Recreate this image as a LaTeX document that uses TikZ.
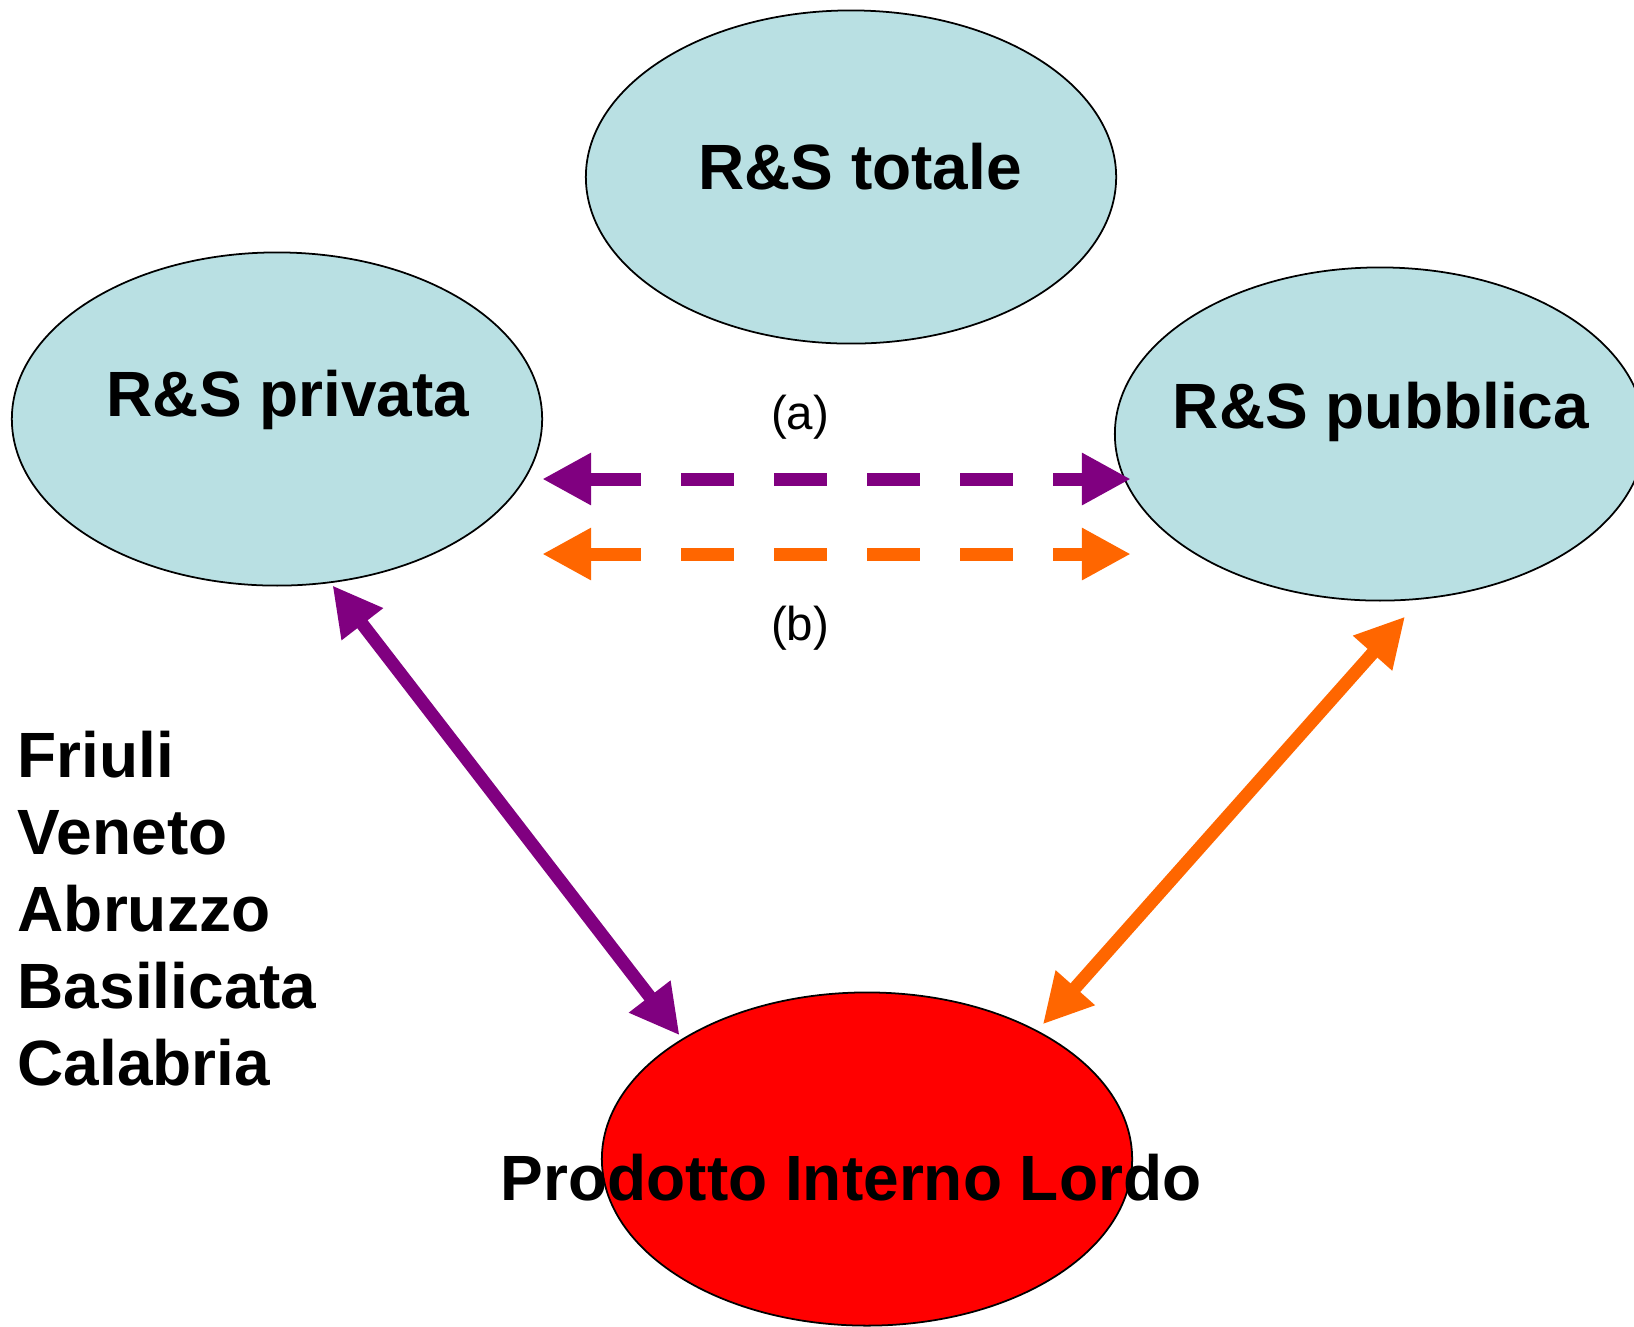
\documentclass[tikz,border=0pt]{standalone}
\usepackage{fontspec}
\setmainfont{Liberation Sans}
\usetikzlibrary{shapes.geometric,arrows.meta}
\definecolor{azzurro}{RGB}{185,224,227}
\definecolor{viola}{RGB}{128,0,128}
\definecolor{arancio}{RGB}{255,102,0}
\begin{document}
\begin{tikzpicture}[x=0.01cm,y=-0.01cm,
 bolla/.style={ellipse,draw=black,line width=0.5pt,fill=azzurro,minimum width=5.3cm,minimum height=3.33cm,inner sep=0pt,outer sep=0pt},
 titolo/.style={anchor=base,font=\fontsize{18.2}{22}\selectfont\bfseries,inner sep=0pt},
 regione/.style={anchor=base west,font=\fontsize{18.2}{22}\selectfont\bfseries,inner sep=0pt},
 lettera/.style={anchor=base,font=\fontsize{13.5}{16}\selectfont,inner sep=0pt},
 freccia/.style={line width=0.13cm,{Triangle[length=0.49cm,width=0.49cm]}-{Triangle[length=0.49cm,width=0.49cm]}},
 tratteggio/.style={freccia,dash pattern=on 0.53cm off 0.40cm}]
 \useasboundingbox (0,0) rectangle (1634,1326);
 % ellissi
 \node[bolla] (totale) at (851,177) {};
 \node[bolla] (privata) at (277,419) {};
 \node[bolla] (pubblica) at (1380,434) {};
 \node[bolla,fill=red] (pil) at (867,1159) {};
 % frecce
 \draw[tratteggio,viola] ([shift={(0,60)}]privata.east) -- ([shift={(16,45)}]pubblica.west);
 \draw[tratteggio,arancio] ([shift={(0,135)}]privata.east) -- ([shift={(16,120)}]pubblica.west);
 \draw[freccia,viola,shorten <=0.04cm,shorten >=0.05cm] (privata.-72.8) -- (pil.147.7);
 \draw[freccia,arancio,shorten <=0.09cm,shorten >=0.24cm] (pil.37.6) -- (pubblica.-76.8);
 % testi
 \node[titolo] (t-totale) at (860,189) {R\&S totale};
 \node[titolo] (t-privata) at (288,416) {R\&S privata};
 \node[titolo] (t-pubblica) at (1381,428) {R\&S pubblica};
 \node[titolo] (t-pil) at (851,1200) {Prodotto Interno Lordo};
 \node[lettera] (a) at (800,429) {(a)};
 \node[lettera] (b) at (800,640) {(b)};
 \node[regione] (friuli) at (17,777) {Friuli};
 \node[regione] (veneto) at (17,854) {Veneto};
 \node[regione] (abruzzo) at (17,931) {Abruzzo};
 \node[regione] (basilicata) at (17,1008) {Basilicata};
 \node[regione] (calabria) at (17,1085) {Calabria};
\end{tikzpicture}
\end{document}
